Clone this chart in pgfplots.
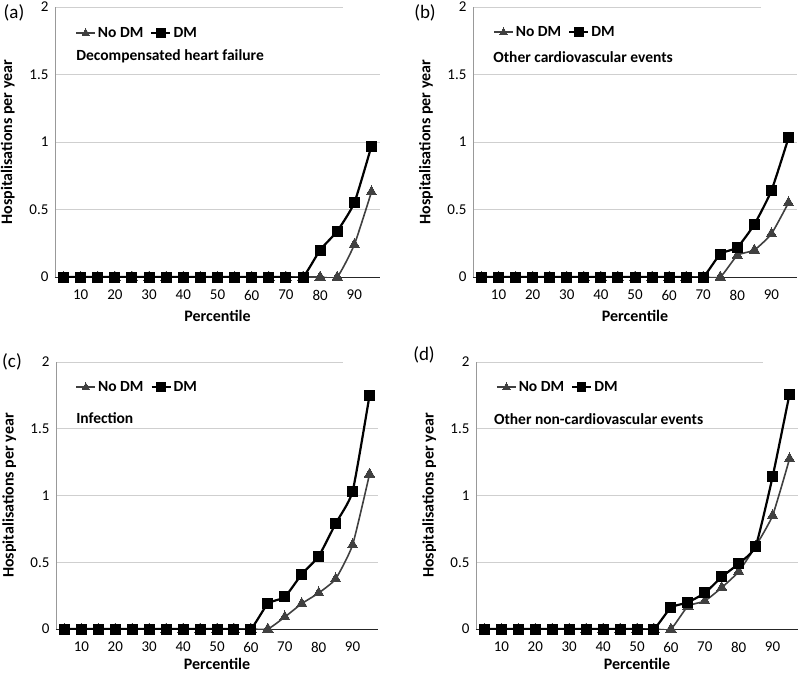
\documentclass[border=0pt]{standalone}
\usepackage{fontspec}
\setmainfont{Carlito}
\usepackage{pgfplots}
\usepackage{pgfplotstable}
\pgfplotsset{compat=1.18}

\definecolor{nodm}{HTML}{404040}
\definecolor{gridc}{HTML}{CFCFCF}
\tikzset{ttl/.style={anchor=west, font=\bfseries\fontsize{15.5}{16}\selectfont}}

% percentile, No DM, DM
\pgfplotstableread{
x nodm dm
5 0 0
10 0 0
15 0 0
20 0 0
25 0 0
30 0 0
35 0 0
40 0 0
45 0 0
50 0 0
55 0 0
60 0 0
65 0 0
70 0 0
75 0 0
80 0 0.20
85 0 0.34
90 0.24 0.55
95 0.63 0.97
}\dataA
\pgfplotstableread{
x nodm dm
5 0 0
10 0 0
15 0 0
20 0 0
25 0 0
30 0 0
35 0 0
40 0 0
45 0 0
50 0 0
55 0 0
60 0 0
65 0 0
70 0 0
75 0 0.17
80 0.16 0.22
85 0.20 0.39
90 0.32 0.64
95 0.55 1.03
}\dataB
\pgfplotstableread{
x nodm dm
5 0 0
10 0 0
15 0 0
20 0 0
25 0 0
30 0 0
35 0 0
40 0 0
45 0 0
50 0 0
55 0 0
60 0 0
65 0 0.19
70 0.09 0.24
75 0.19 0.41
80 0.27 0.545
85 0.375 0.79
90 0.63 1.03
95 1.16 1.75
}\dataC
\pgfplotstableread{
x nodm dm
5 0 0
10 0 0
15 0 0
20 0 0
25 0 0
30 0 0
35 0 0
40 0 0
45 0 0
50 0 0
55 0 0
60 0 0.16
65 0.17 0.20
70 0.21 0.27
75 0.31 0.39
80 0.43 0.49
85 0.62 0.62
90 0.85 1.14
95 1.275 1.76
}\dataD

\pgfplotsset{
  panel/.style={
    scale only axis,
    xmin=2.5, xmax=97.5, ymin=0, ymax=2,
    xtick={10,20,...,90},
    ytick={0,0.5,1,1.5,2},
    major tick length=0pt,
    axis x line*=bottom, axis y line*=left,
    x axis line style={-, black!85, line width=1pt},
    y axis line style={-, gray!80, line width=0.8pt},
    ymajorgrids, grid style={gridc, line width=0.9pt},
    /pgf/number format/assume math mode=true,
    ticklabel style={font=\fontsize{15}{15}\selectfont},
    xticklabel style={anchor=center, yshift=-18pt},
    yticklabel style={anchor=east, xshift=-3pt},
    label style={font=\bfseries\fontsize{16}{16}\selectfont},
    xlabel={Percentile},
    ylabel={Hospitalisations per year},
    xlabel style={at={(axis description cs:0.5,-0.145)}, anchor=center},
    ylabel style={at={(axis description cs:-0.145,0.5)}, anchor=center},
    clip mode=individual,
    legend columns=2,
    legend style={draw=none, fill=none, anchor=west, inner sep=0pt,
      font=\bfseries\fontsize{15.5}{16}\selectfont,
      /tikz/every even column/.append style={column sep=5pt}},
    legend image code/.code={\draw[#1, mark size=4.2pt, mark repeat=2, mark phase=2]
      plot coordinates {(0pt,0pt) (9.5pt,0pt) (19pt,0pt)};},
  },
  nodmline/.style={nodm, line width=1.6pt, smooth, tension=0.3,
    mark=triangle*, mark size=6pt, mark options={solid, fill=nodm, draw=nodm, line width=0pt}},
  dmline/.style={black, line width=2.2pt, smooth, tension=0.3,
    mark=square*, mark size=5pt, mark options={solid, fill=black, draw=black, line width=0pt}},
}

\begin{document}
\begin{tikzpicture}
\useasboundingbox (0,0) rectangle (800pt,-675pt);

% (a)
\begin{axis}[panel, width=325pt, height=270pt, at={(55pt,-277pt)}, anchor=south west,
  legend style={at={(axis description cs:0.062,0.904)}}]
\addplot[nodmline] table[x=x, y=nodm] {\dataA};
\addplot[dmline] table[x=x, y=dm] {\dataA};
\legend{No DM, DM}
\node[ttl] at (axis description cs:0.055,0.819) {Decompensated heart failure};
\draw[white, line width=2pt] (axis description cs:0.886,1) -- (axis description cs:1,1);
\end{axis}

% (b)
\begin{axis}[panel, width=324pt, height=270pt, at={(473pt,-277pt)}, anchor=south west,
  legend style={at={(axis description cs:0.062,0.907)}}]
\addplot[nodmline] table[x=x, y=nodm] {\dataB};
\addplot[dmline] table[x=x, y=dm] {\dataB};
\legend{No DM, DM}
\node[ttl] at (axis description cs:0.052,0.815) {Other cardiovascular events};
\draw[white, line width=2pt] (axis description cs:0.89,1) -- (axis description cs:1,1);
\end{axis}

% (c)
\begin{axis}[panel, width=322pt, height=267pt, at={(56pt,-629pt)}, anchor=south west,
  xlabel style={at={(axis description cs:0.5,-0.13)}},
  legend style={at={(axis description cs:0.06,0.906)}}]
\addplot[nodmline] table[x=x, y=nodm] {\dataC};
\addplot[dmline] table[x=x, y=dm] {\dataC};
\legend{No DM, DM}
\node[ttl] at (axis description cs:0.052,0.79) {Infection};
\draw[white, line width=2pt] (axis description cs:0.89,1) -- (axis description cs:1,1);
\end{axis}

% (d)
\begin{axis}[panel, width=322pt, height=267pt, at={(476pt,-629pt)}, anchor=south west,
  xlabel style={at={(axis description cs:0.5,-0.13)}},
  legend style={at={(axis description cs:0.062,0.906)}}]
\addplot[nodmline] table[x=x, y=nodm] {\dataD};
\addplot[dmline] table[x=x, y=dm] {\dataD};
\legend{No DM, DM}
\node[ttl] at (axis description cs:0.045,0.787) {Other non-cardiovascular events};
\draw[white, line width=2pt] (axis description cs:0.89,1) -- (axis description cs:1,1);
\end{axis}

% panel letters
\node[font=\fontsize{19}{19}\selectfont] at (14pt,-13pt) {(a)};
\node[font=\fontsize{19}{19}\selectfont] at (425pt,-13pt) {(b)};
\node[font=\fontsize{19}{19}\selectfont] at (12pt,-362pt) {(c)};
\node[font=\fontsize{19}{19}\selectfont] at (424pt,-355pt) {(d)};
\end{tikzpicture}
\end{document}
